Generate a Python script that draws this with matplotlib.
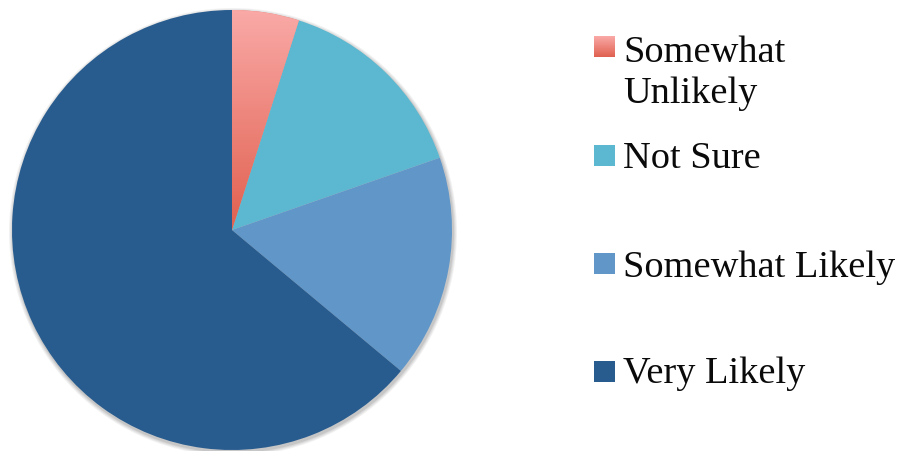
import numpy as np
import matplotlib
matplotlib.use("Agg")
import matplotlib.pyplot as plt
from matplotlib.colors import LinearSegmentedColormap
from matplotlib.patches import Rectangle, Circle

# survey responses
labels = ["Somewhat\nUnlikely", "Not Sure", "Somewhat Likely", "Very Likely"]
counts = [3, 9, 10, 39]
colors = ["#E8786C", "#5BB8D0", "#6096C8", "#285C8F"]

W, H = 899, 451
fig = plt.figure(figsize=(W / 100, H / 100), dpi=100)
ax = fig.add_axes([0, 0, 1, 1])

cx, cy, r = 232, H - 230, 220

# soft shadow under the pie
for i, a in enumerate([0.05, 0.05, 0.06, 0.08]):
    ax.add_patch(Circle((cx + 1, cy - 2), r + 4 - i, color="#000000", alpha=a, lw=0, zorder=1))

wedges, _ = ax.pie(counts, colors=colors, startangle=90, counterclock=False,
                   center=(cx, cy), radius=r, frame=True,
                   wedgeprops=dict(linewidth=0, zorder=2))

# vertical gradient fill on the first slice
red_grad = LinearSegmentedColormap.from_list("red_grad", ["#FAAAA8", "#E0604F"])
grad = np.linspace(0, 1, 256).reshape(-1, 1)
img = ax.imshow(grad, cmap=red_grad, aspect="auto", origin="upper",
                extent=[cx, cx + 80, cy, cy + r + 2], zorder=3)
img.set_clip_path(wedges[0])

# legend
sq_tops = [36, 145, 253, 361]
baselines = [62, 168, 277, 383]
for i, lab in enumerate(labels):
    if i == 0:
        ax.imshow(grad, cmap=red_grad, aspect="auto", origin="upper",
                  extent=[594, 615, H - sq_tops[i] - 21, H - sq_tops[i]], zorder=3)
    else:
        ax.add_patch(Rectangle((594, H - sq_tops[i] - 21), 21, 21, color=colors[i], lw=0, zorder=3))
    for j, ln in enumerate(lab.split("\n")):
        ax.text(623, H - baselines[i] - 41 * j, ln, fontsize=27.6, family="Liberation Serif",
                va="baseline", ha="left", color="#0A0A0A")

ax.set_xlim(0, W)
ax.set_ylim(0, H)
ax.set_aspect("equal")
ax.axis("off")
fig.savefig("out.png", dpi=100)
